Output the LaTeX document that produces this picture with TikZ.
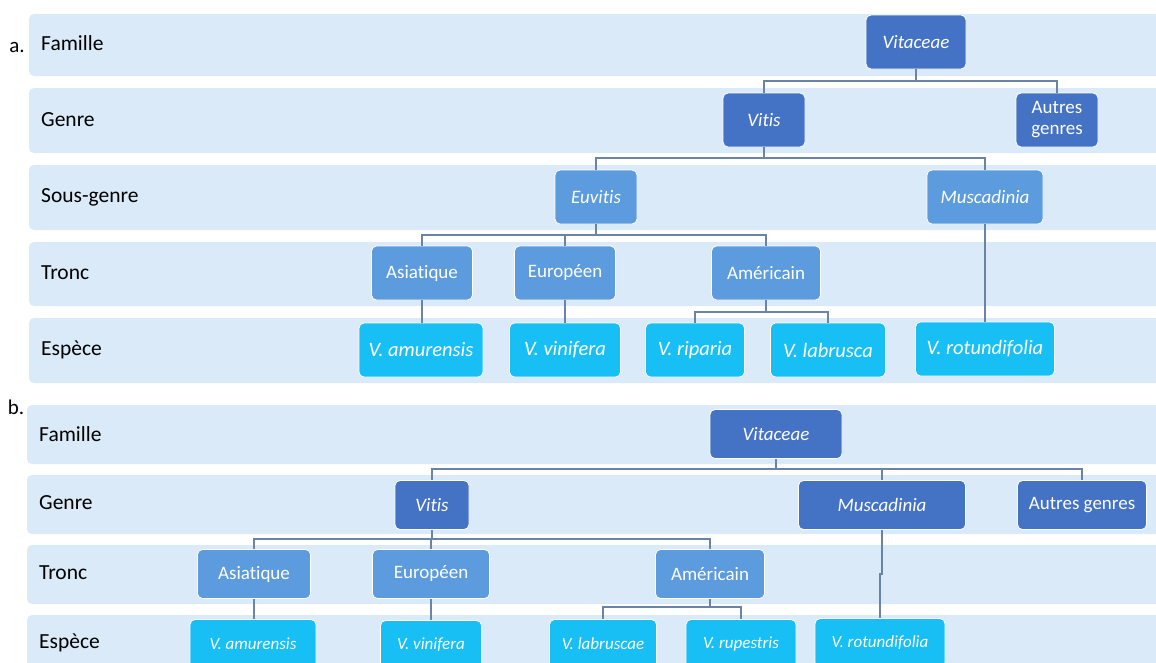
\documentclass[tikz,border=0pt]{standalone}
\usepackage{fontspec}
\setmainfont[Ligatures=NoCommon]{Carlito}
\definecolor{bandc}{HTML}{DAEAF8}
\definecolor{dkc}{HTML}{4472C4}
\definecolor{mdc}{HTML}{5B9BDE}
\definecolor{cyc}{HTML}{18BFF5}
\definecolor{linec}{HTML}{6A84A8}
\tikzset{
  band/.style={fill=bandc, draw=none, rounded corners=5pt},
  lab/.style={anchor=west, inner sep=0pt, font=\fontsize{21.5}{23}\selectfont, text=black},
  box/.style={rectangle, rounded corners=5pt, draw=white, line width=0.8pt, text=white, inner sep=0pt, align=center},
  dk/.style={box, fill=dkc},
  md/.style={box, fill=mdc},
  cy/.style={box, fill=cyc},
  conn/.style={draw=linec, line width=1.3pt},
  fa/.style={font=\fontsize{19}{21}\selectfont},
  fe/.style={font=\fontsize{20.5}{22}\selectfont},
  fb/.style={font=\fontsize{17}{19}\selectfont},
}
\begin{document}
\begin{tikzpicture}[x=1pt,y=-1pt]
\clip (0,0) rectangle (1156,662);
\fill[white] (0,0) rectangle (1156,662);
% ---------- panel a ----------
\node[anchor=center, inner sep=0pt, font=\fontsize{21}{23}\selectfont] (la) at (17,47) {a.};
\path[band] (29,14) rectangle (1170,76);
\path[band] (29,88) rectangle (1170,153);
\path[band] (29,165) rectangle (1170,230);
\path[band] (29,242) rectangle (1170,306);
\path[band] (29,318) rectangle (1170,383);
\node[lab] (aF) at (41,43) {Famille};
\node[lab] (aG) at (41,120) {Genre};
\node[lab] (aS) at (41,197) {Sous-genre};
\node[lab] (aT) at (41,273) {Tronc};
\node[lab] (aE) at (41,350) {Espèce};

\node[dk, fa, minimum width=100pt, minimum height=54pt] (aVitaceae) at (916,42) {\itshape Vitaceae};
\node[dk, fa, minimum width=82pt, minimum height=54pt] (aVitis) at (764,120) {\itshape Vitis};
\node[dk, fa, minimum width=82pt, minimum height=54pt] (aAutres) at (1057,120) {Autres\\genres};
\node[md, fa, minimum width=82pt, minimum height=54pt] (aEuvitis) at (596,197) {\itshape Euvitis};
\node[md, fa, minimum width=116pt, minimum height=54pt] (aMusc) at (985,197) {\itshape Muscadinia};
\node[md, fa, minimum width=101pt, minimum height=54pt] (aAsia) at (422,273) {Asiatique};
\node[md, fa, minimum width=101pt, minimum height=54pt] (aEuro) at (565,273) {Européen};
\node[md, fa, minimum width=109pt, minimum height=54pt] (aAmer) at (766,273) {Américain};
\node[cy, fe, minimum width=124pt, minimum height=54pt] (aAmur) at (421,350) {\itshape V. amurensis};
\node[cy, fe, minimum width=111pt, minimum height=54pt] (aVini) at (565,350) {\itshape V. vinifera};
\node[cy, fe, minimum width=99pt, minimum height=54pt] (aRipa) at (695,350) {\itshape V. riparia};
\node[cy, fe, minimum width=115pt, minimum height=54pt] (aLabr) at (828,350) {\itshape V. labrusca};
\node[cy, fe, minimum width=139pt, minimum height=54pt] (aRotu) at (985,349) {\itshape V. rotundifolia};

\coordinate (aj1) at (916,81);
\coordinate (aj2) at (764,158);
\coordinate (aj3) at (596,235);
\coordinate (aj4) at (766,312);
\draw[conn] (aVitaceae.south) -- (aj1);
\draw[conn] (aVitis.north) |- (aj1) -| (aAutres.north);
\draw[conn] (aVitis.south) -- (aj2);
\draw[conn] (aEuvitis.north) |- (aj2) -| (aMusc.north);
\draw[conn] (aEuvitis.south) -- (aj3);
\draw[conn] (aAsia.north) |- (aj3) -| (aAmer.north);
\draw[conn] (aEuro.north) -- (aEuro.north |- aj3);
\draw[conn] (aAsia.south) -- (aAmur.north -| aAsia.south);
\draw[conn] (aEuro.south) -- (aVini.north -| aEuro.south);
\draw[conn] (aAmer.south) -- (aj4);
\draw[conn] (aRipa.north) |- (aj4) -| (aLabr.north);
\draw[conn] (aMusc.south) -- (aRotu.north -| aMusc.south);

% ---------- panel b ----------
\node[anchor=center, inner sep=0pt, font=\fontsize{21}{23}\selectfont] (lb) at (16,407) {b.};
\path[band] (27,405) rectangle (1170,464);
\path[band] (27,475) rectangle (1170,534);
\path[band] (27,545) rectangle (1170,604);
\path[band] (27,615) rectangle (1170,690);
\node[lab] (bF) at (39,434) {Famille};
\node[lab] (bG) at (39,503) {Genre};
\node[lab] (bT) at (39,573) {Tronc};
\node[lab] (bE) at (39,643) {Espèce};

\node[dk, fa, minimum width=132pt, minimum height=49pt] (bVitaceae) at (776,434) {\itshape Vitaceae};
\node[dk, fa, minimum width=74pt, minimum height=49pt] (bVitis) at (432,505) {\itshape Vitis};
\node[dk, fa, minimum width=167pt, minimum height=49pt] (bMusc) at (882,505) {\itshape Muscadinia};
\node[dk, fa, minimum width=129pt, minimum height=49pt] (bAutres) at (1082,505) {Autres genres};
\node[md, fa, minimum width=113pt, minimum height=49pt] (bAsia) at (254,574) {Asiatique};
\node[md, fa, minimum width=117pt, minimum height=49pt] (bEuro) at (431,574) {Européen};
\node[md, fa, minimum width=109pt, minimum height=49pt] (bAmer) at (710,574) {Américain};
\node[cy, fb, minimum width=126pt, minimum height=49pt] (bAmur) at (253,644) {\itshape V. amurensis};
\node[cy, fb, minimum width=101pt, minimum height=49pt] (bVini) at (431,645) {\itshape V. vinifera};
\node[cy, fb, minimum width=107pt, minimum height=49pt] (bLabr) at (603,644) {\itshape V. labruscae};
\node[cy, fb, minimum width=110pt, minimum height=49pt] (bRupe) at (741,644) {\itshape V. rupestris};
\node[cy, fb, minimum width=130pt, minimum height=49pt] (bRotu) at (880,643) {\itshape V. rotundifolia};

\coordinate (bj1) at (776,469);
\coordinate (bj2) at (432,539);
\coordinate (bj3) at (710,607);
\coordinate (bj4) at (882,574);
\draw[conn] (bVitaceae.south) -- (bj1);
\draw[conn] (bVitis.north) |- (bj1) -| (bAutres.north);
\draw[conn] (bMusc.north) -- (bMusc.north |- bj1);
\draw[conn] (bVitis.south) -- (bj2);
\draw[conn] (bAsia.north) |- (bj2) -| (bAmer.north);
\draw[conn] (bEuro.north) -- (bEuro.north |- bj2);
\draw[conn] (bAsia.south) -- (bAmur.north -| bAsia.south);
\draw[conn] (bEuro.south) -- (bVini.north -| bEuro.south);
\draw[conn] (bAmer.south) -- (bj3);
\draw[conn] (bLabr.north) |- (bj3) -| (bRupe.north);
\draw[conn] (bMusc.south) -- (bj4) -- (bj4 -| bRotu.north) -- (bRotu.north);
\end{tikzpicture}
\end{document}
